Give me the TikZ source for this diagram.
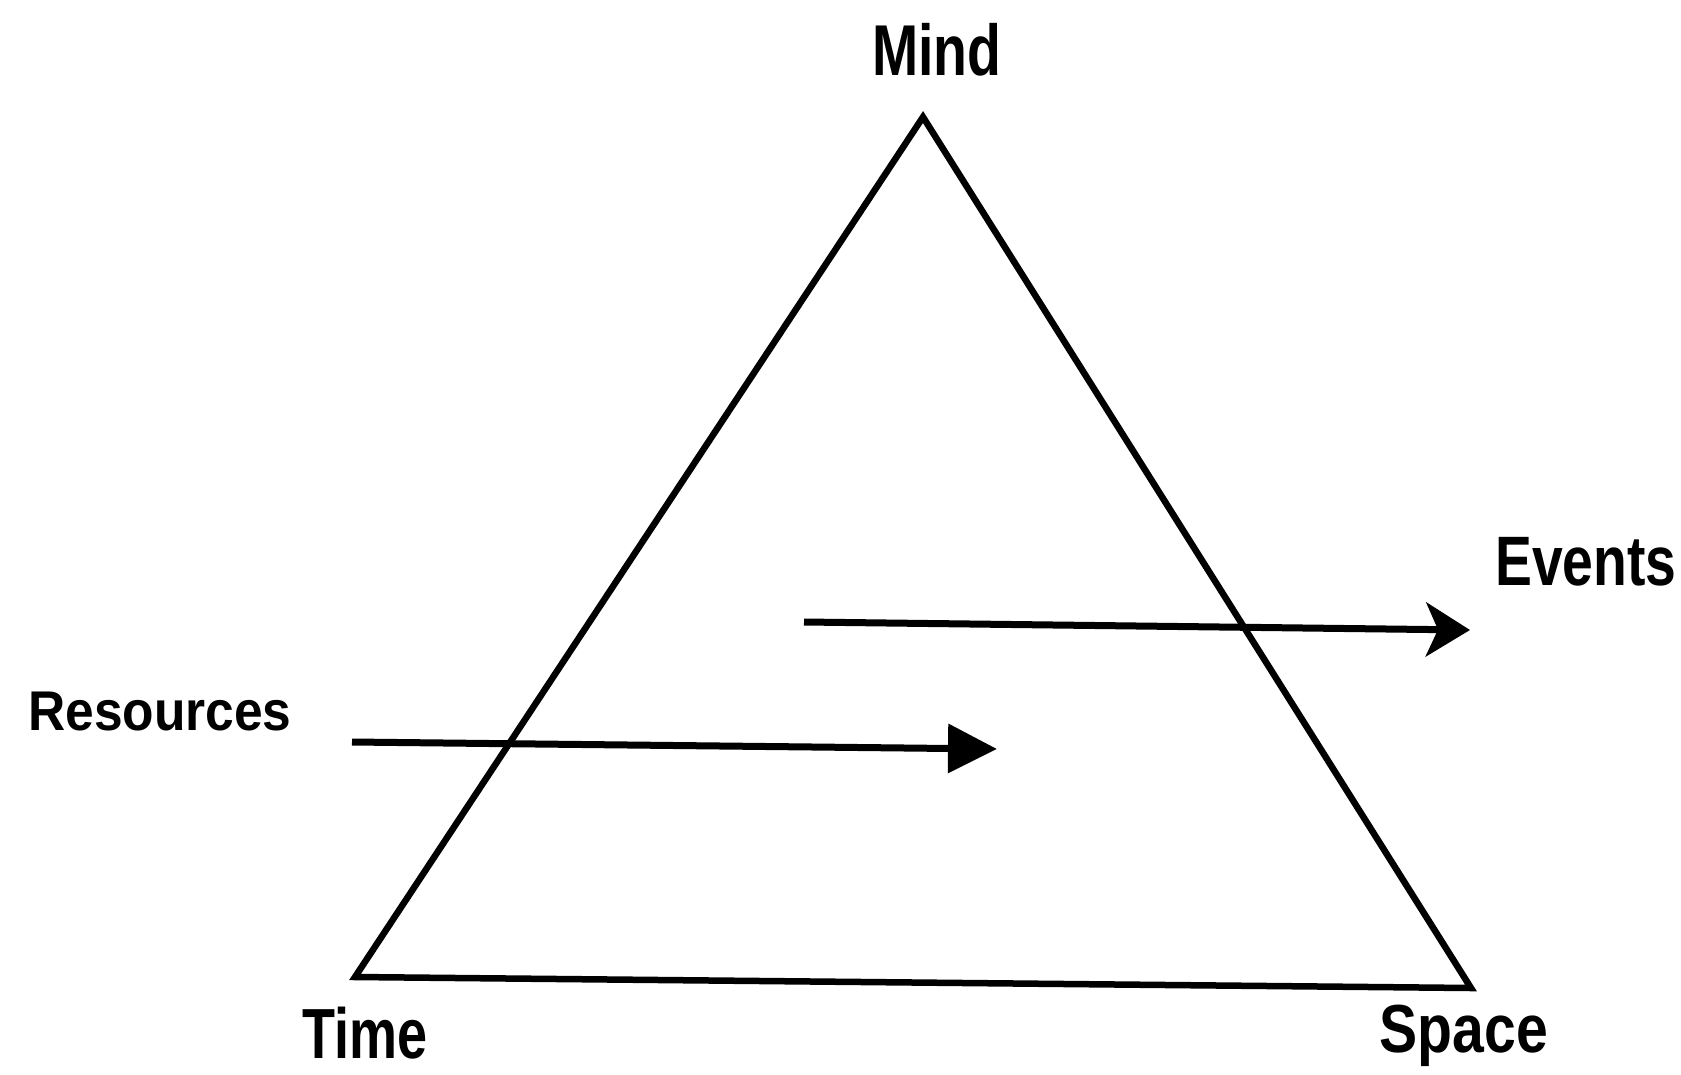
\documentclass[tikz,border=0pt]{standalone}
\usepackage{fontspec}
\usepackage{graphicx}
\setmainfont{Liberation Sans}
\usetikzlibrary{arrows.meta}
\begin{document}
\begin{tikzpicture}[x=1pt,y=-1pt,
  lbl/.style={inner sep=0pt,font=\bfseries},
  edge/.style={line width=6.5pt,line join=miter},
  shaft/.style={line width=7pt}]
\useasboundingbox (0,0) rectangle (1681,1074);
\fill[white] (0,0) rectangle (1681,1074);
% vertices
\coordinate (M) at (923,117);
\coordinate (T) at (355,977);
\coordinate (S) at (1471,988);
\draw[edge] (M) -- (T) -- (S) -- cycle;
% labels
\node[lbl,anchor=base] (mind) at (937,75) {\fontsize{72}{72}\selectfont\scalebox{0.77}[1]{Mind}};
\node[lbl,anchor=base west] (time) at (302,1058) {\fontsize{71}{71}\selectfont\scalebox{0.76}[1]{Time}};
\node[lbl,anchor=base] (space) at (1464,1052) {\fontsize{68}{68}\selectfont\scalebox{0.84}[1]{Space}};
\node[lbl,anchor=base west] (events) at (1495,585) {\fontsize{70}{70}\selectfont\scalebox{0.79}[1]{Events}};
\node[lbl,anchor=base west] (res) at (28,730) {\fontsize{56}{56}\selectfont\scalebox{0.92}[1]{Resources}};
% arrows
\coordinate (e0) at (804,622);
\coordinate (e1) at (1470,630);
\draw[shaft,-{Stealth[length=44pt,width=54pt,inset=12pt]}] (e0) -- (e1);
\coordinate (r0) at (352,742);
\coordinate (r1) at (997,749);
\draw[shaft,-{Triangle[length=49pt,width=48pt]}] (r0) -- (r1);
\end{tikzpicture}
\end{document}
